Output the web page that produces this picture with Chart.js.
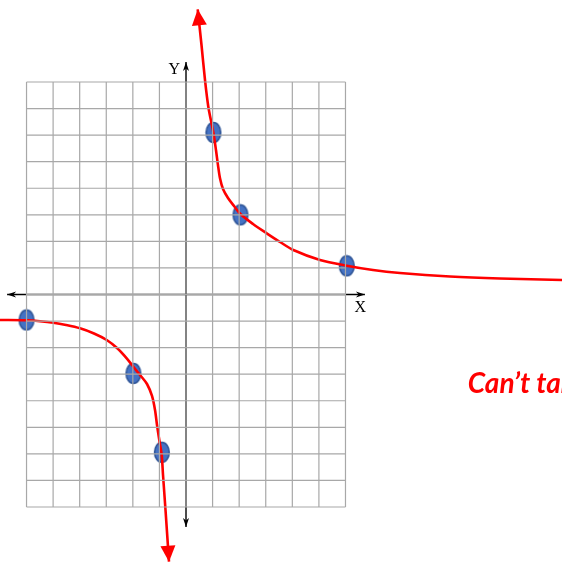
<!DOCTYPE html>
<html>
<head>
<meta charset="utf-8">
<script src="https://cdn.jsdelivr.net/npm/chart.js@4.4.1/dist/chart.umd.min.js"></script>
<style>
html,body{margin:0;padding:0;background:#fff;overflow:hidden}
#wrap{width:562px;height:563px;position:relative}
</style>
</head>
<body>
<div id="wrap"><canvas id="c" width="562" height="563"></canvas></div>
<script>
// ---- data ----
const gridXValues = [-6,-5,-4,-3,-2,-1,0,1,2,3,4,5,6];
const gridYValues = [-8,-7,-6,-5,-4,-3,-2,-1,0,1,2,3,4,5,6,7,8];
const gridRange = {xMin:-6, xMax:6, yMin:-8, yMax:8};
const xAxisLine = [[-6.73,0],[6.73,0]];
const yAxisLine = [[0,8.75],[0,-8.75]];
const rightBranchX = [0.440,0.583,0.715,0.839,1.027,1.129,1.204,1.279,1.392,1.580,1.806,2.058,2.521,3.036,3.537,4.037,5.041,6.046,7.035,8.051,9.932,11.813,14.146];
const rightBranchY = [10.738,9.394,8.069,7.071,6.107,5.429,4.864,4.375,3.972,3.633,3.332,3.020,2.655,2.304,1.977,1.676,1.299,1.084,0.922,0.810,0.678,0.602,0.546];
const leftBranchX = [-0.640,-0.771,-0.865,-0.914,-1.005,-1.091,-1.166,-1.279,-1.467,-1.730,-1.983,-2.231,-2.596,-2.983,-3.461,-3.988,-4.515,-4.992,-5.493,-5.993,-6.998];
const leftBranchY = [-10.060,-8.114,-6.796,-6.043,-5.478,-4.913,-4.349,-3.821,-3.370,-3.031,-2.718,-2.402,-2.015,-1.713,-1.468,-1.273,-1.148,-1.062,-1.005,-0.971,-0.960];
const markerX = [1.03,2.05,6.05,-6.0,-1.98,-0.91];
const markerY = [6.1,3.0,1.08,-0.96,-2.97,-5.94];
const textLabels = [
  {text:'Y', x:-0.44, y:8.45, kind:'axis'},
  {text:'X', x:6.56, y:-0.5, kind:'axis'},
  {text:'Can\u2019t take', x:10.6, y:-3.7, kind:'note'}
];

// ---- build datasets ----
function gridData(){
  const pts=[];
  gridXValues.forEach(v=>{pts.push({x:v,y:gridRange.yMin},{x:v,y:gridRange.yMax},{x:v,y:null});});
  gridYValues.forEach(v=>{pts.push({x:gridRange.xMin,y:v},{x:gridRange.xMax,y:v},{x:null,y:v});});
  return pts;
}
const zip=(xs,ys)=>xs.map((x,i)=>({x:x,y:ys[i]}));

const ell=document.createElement('canvas');
ell.width=18; ell.height=23;
(function(){const g=ell.getContext('2d');g.beginPath();g.ellipse(9,11.5,7.3,10,0,0,Math.PI*2);
g.fillStyle='#4472C4';g.fill();g.lineWidth=1.6;g.strokeStyle='#2F5597';g.stroke();})();

const arrowPlugin={
  id:'arrows',
  afterDatasetsDraw(chart){
    const ctx=chart.ctx;
    chart.data.datasets.forEach((ds,i)=>{
      if(!ds.arrow) return;
      const meta=chart.getDatasetMeta(i);
      const el=meta.data;
      const ends=ds.arrow.both?[[1,0],[el.length-2,el.length-1]]:[[1,0]];
      ends.forEach(([a,b])=>{
        const p0=el[a],p1=el[b];
        const ang=Math.atan2(p1.y-p0.y,p1.x-p0.x);
        const L=ds.arrow.len,W=ds.arrow.wid;
        ctx.save();ctx.translate(p1.x,p1.y);ctx.rotate(ang);
        ctx.beginPath();ctx.moveTo(0,0);ctx.lineTo(-L,-W/2);
        if(ds.arrow.notch) ctx.lineTo(-L*0.7,0);
        ctx.lineTo(-L,W/2);ctx.closePath();
        ctx.fillStyle=ds.borderColor;ctx.fill();ctx.restore();
      });
    });
  },
  afterDraw(chart){
    const ctx=chart.ctx,xs=chart.scales.x,ys=chart.scales.y;
    textLabels.forEach(t=>{
      ctx.save();
      const px=xs.getPixelForValue(t.x),py=ys.getPixelForValue(t.y);
      if(t.kind==='axis'){
        ctx.font='16px "Liberation Serif"';ctx.fillStyle='#000';
        ctx.textAlign='center';ctx.textBaseline='middle';
        ctx.fillText(t.text,px,py);
      }else{
        ctx.font='italic bold 28px Lato';ctx.fillStyle='#FF0000';
        ctx.textAlign='left';ctx.textBaseline='alphabetic';
        ctx.fillText(t.text,px,py);
      }
      ctx.restore();
    });
  }
};

new Chart(document.getElementById('c'),{
  type:'scatter',
  data:{datasets:[
    {data:gridData(),showLine:true,spanGaps:false,borderColor:'#A8A8A8',borderWidth:1.2,pointRadius:0,tension:0},
    {data:xAxisLine.map(p=>({x:p[0],y:p[1]})),showLine:true,borderColor:'#000',borderWidth:1.4,pointRadius:0,arrow:{both:true,len:9,wid:6,notch:true}},
    {data:yAxisLine.map(p=>({x:p[0],y:p[1]})),showLine:true,borderColor:'#000',borderWidth:1.4,pointRadius:0,arrow:{both:true,len:9,wid:6,notch:true}},
    {data:zip(rightBranchX,rightBranchY),showLine:true,borderColor:'#FF0000',borderWidth:2.6,pointRadius:0,tension:0.3,arrow:{both:false,len:16,wid:15}},
    {data:zip(leftBranchX,leftBranchY),showLine:true,borderColor:'#FF0000',borderWidth:2.6,pointRadius:0,tension:0.3,arrow:{both:false,len:16,wid:15}},
    {data:zip(markerX,markerY),showLine:false,pointStyle:ell,pointRadius:10}
  ]},
  options:{
    responsive:false,animation:false,
    layout:{padding:0,autoPadding:false},
    plugins:{legend:{display:false},tooltip:{enabled:false}},
    scales:{
      x:{type:'linear',min:-6.998,max:14.146,display:false},
      y:{type:'linear',min:-10.109,max:11.088,display:false}
    }
  },
  plugins:[arrowPlugin]
});
</script>
</body>
</html>
